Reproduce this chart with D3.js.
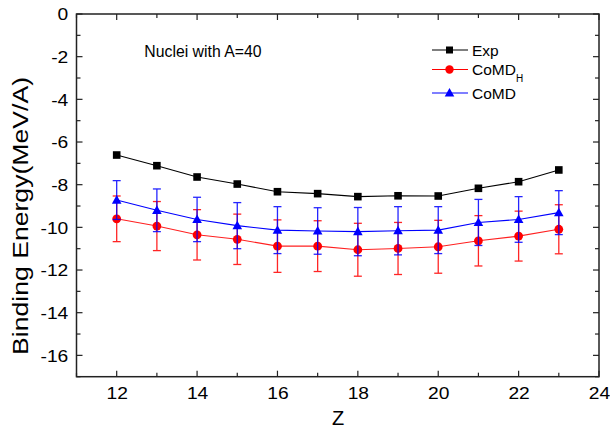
<!DOCTYPE html>
<html><head><meta charset="utf-8">
<script src="https://cdn.jsdelivr.net/npm/d3@7"></script>
<style>
body{margin:0;background:#fff;}
svg{display:block;font-family:"Liberation Sans",Arial,sans-serif;}
</style></head>
<body><svg id="c" width="610" height="434"></svg>
<script>
const Z = [12,13,14,15,16,17,18,19,20,21,22,23];
const expBE = [-6.61,-7.11,-7.64,-7.97,-8.33,-8.42,-8.56,-8.52,-8.53,-8.17,-7.86,-7.31];
const comdH = [-9.60,-9.94,-10.35,-10.56,-10.88,-10.88,-11.05,-10.99,-10.91,-10.63,-10.41,-10.09];
const comdHErr = [1.07,1.15,1.18,1.18,1.23,1.19,1.24,1.22,1.24,1.18,1.17,1.15];
const comd = [-8.72,-9.20,-9.63,-9.92,-10.13,-10.17,-10.20,-10.16,-10.13,-9.77,-9.63,-9.31];
const comdErr = [0.91,1.00,1.04,1.08,1.10,1.09,1.13,1.13,1.10,1.08,1.07,1.03];
const xTicks = [12,14,16,18,20,22,24];
const yTicks = [0,-2,-4,-6,-8,-10,-12,-14,-16];
const seriesNames = ["Exp","CoMD","CoMD"];
const annotation = "Nuclei with A=40";
const xTitle = "Z";
const yTitle = "Binding Energy(MeV/A)";

const svg = d3.select("#c");
const L=76.5, R=599, T=14, B=376.7;
const x = d3.scaleLinear().domain([11,24]).range([L,R]);
const y = d3.scaleLinear().domain([-17,0]).range([B,T]);
const SX = 1.18;

// ticks
const minorX = d3.range(11,25,1), minorY = d3.range(-17,1,1);
const tickG = svg.append("g").attr("stroke","#222").attr("stroke-width",1.2);
minorX.forEach(v=>{
  const len = xTicks.includes(v)?6:4;
  tickG.append("line").attr("x1",x(v)).attr("x2",x(v)).attr("y1",B).attr("y2",B-len);
  tickG.append("line").attr("x1",x(v)).attr("x2",x(v)).attr("y1",T).attr("y2",T+len);
});
minorY.forEach(v=>{
  const len = yTicks.includes(v)?6:4;
  tickG.append("line").attr("y1",y(v)).attr("y2",y(v)).attr("x1",L).attr("x2",L+len);
  tickG.append("line").attr("y1",y(v)).attr("y2",y(v)).attr("x1",R).attr("x2",R-len);
});

// axes labels via d3 axis
const xAxis = svg.append("g").attr("transform",`translate(0,${B})`)
  .call(d3.axisBottom(x).tickValues(xTicks).tickSize(0).tickPadding(0).tickFormat(d3.format("d")));
xAxis.select(".domain").remove();
xAxis.selectAll("text").attr("y",22.3).attr("dy",null).attr("font-size",16.3)
  .attr("fill","#000").attr("font-family","Liberation Sans, Arial, sans-serif")
  .attr("transform",`scale(${SX},1)`);
const yAxis = svg.append("g").attr("transform",`translate(${L},0)`)
  .call(d3.axisLeft(y).tickValues(yTicks).tickSize(0).tickPadding(0).tickFormat(d=>d3.format("d")(d).replace("−","-")));
yAxis.select(".domain").remove();
yAxis.selectAll("text").attr("x",-8.2/SX).attr("dy","0.36em").attr("font-size",16.3)
  .attr("fill","#000").attr("font-family","Liberation Sans, Arial, sans-serif")
  .attr("transform",`scale(${SX},1)`);

// frame
svg.append("rect").attr("x",L).attr("y",T).attr("width",R-L).attr("height",B-T)
  .attr("fill","none").attr("stroke","#222").attr("stroke-width",1.5);

// titles
svg.append("text").attr("x",338).attr("y",425).attr("text-anchor","middle")
  .attr("font-size",20).text(xTitle);
svg.append("text").attr("transform","translate(28.3,216) rotate(-90)")
  .attr("text-anchor","middle").attr("font-size",22)
  .attr("textLength",278).attr("lengthAdjust","spacingAndGlyphs").text(yTitle);
svg.append("text").attr("x",144.3).attr("y",57.3).attr("font-size",15.8).text(annotation);

const line = d3.line().x(d=>x(d[0])).y(d=>y(d[1]));
const capW = 4;
function errBars(vals, errs, color){
  const g = svg.append("g").attr("stroke",color).attr("stroke-width",1.3).attr("opacity",0.85);
  Z.forEach((z,i)=>{
    const xx=x(z), y1=y(vals[i]+errs[i]), y2=y(vals[i]-errs[i]);
    g.append("line").attr("x1",xx).attr("x2",xx).attr("y1",y1).attr("y2",y2);
    g.append("line").attr("x1",xx-capW).attr("x2",xx+capW).attr("y1",y1).attr("y2",y1);
    g.append("line").attr("x1",xx-capW).attr("x2",xx+capW).attr("y1",y2).attr("y2",y2);
  });
}
const tri = d3.symbol().type(d3.symbolTriangle).size(40);
function triPath(cx,cy){ return `M${cx},${cy-5} L${cx+4.8},${cy+3.6} L${cx-4.8},${cy+3.6} Z`; }

// CoMD_H (red)
errBars(comdH, comdHErr, "#ff0000");
svg.append("path").datum(Z.map((z,i)=>[z,comdH[i]])).attr("d",line)
  .attr("fill","none").attr("stroke","#ff2020").attr("stroke-width",1.1);
svg.append("g").selectAll("circle").data(Z).join("circle")
  .attr("cx",d=>x(d)).attr("cy",(d,i)=>y(comdH[i])).attr("r",4.4).attr("fill","#ff0000");

// CoMD (blue)
errBars(comd, comdErr, "#0000ff");
svg.append("path").datum(Z.map((z,i)=>[z,comd[i]])).attr("d",line)
  .attr("fill","none").attr("stroke","#0000ff").attr("stroke-width",1.1);
svg.append("g").selectAll("path").data(Z).join("path")
  .attr("d",(d,i)=>triPath(x(d),y(comd[i]))).attr("fill","#0000ff");

// Exp (black)
svg.append("path").datum(Z.map((z,i)=>[z,expBE[i]])).attr("d",line)
  .attr("fill","none").attr("stroke","#000").attr("stroke-width",1.1);
svg.append("g").selectAll("rect").data(Z).join("rect")
  .attr("x",d=>x(d)-3.8).attr("y",(d,i)=>y(expBE[i])-3.8).attr("width",7.6).attr("height",7.6)
  .attr("fill","#000");

// legend
const lg = svg.append("g");
const rows = [{y:50,c:"#000",m:"sq"},{y:69.5,c:"#ff0000",m:"ci"},{y:93,c:"#0000ff",m:"tr"}];
rows.forEach((r,i)=>{
  lg.append("line").attr("x1",432).attr("x2",468).attr("y1",r.y).attr("y2",r.y)
    .attr("stroke",r.c).attr("stroke-width",1.1);
  if(r.m==="sq") lg.append("rect").attr("x",449.5-3.5).attr("y",r.y-3.5).attr("width",7).attr("height",7).attr("fill",r.c);
  if(r.m==="ci") lg.append("circle").attr("cx",449.5).attr("cy",r.y).attr("r",4.2).attr("fill",r.c);
  if(r.m==="tr") lg.append("path").attr("d",triPath(449.5,r.y)).attr("fill",r.c);
  const t = lg.append("text").attr("x",472).attr("y",r.y+5.6).attr("font-size",15.5).text(seriesNames[i]);
  if(i===1) t.append("tspan").attr("font-size",10).attr("dy",6.5).text("H");
});
</script></body></html>
